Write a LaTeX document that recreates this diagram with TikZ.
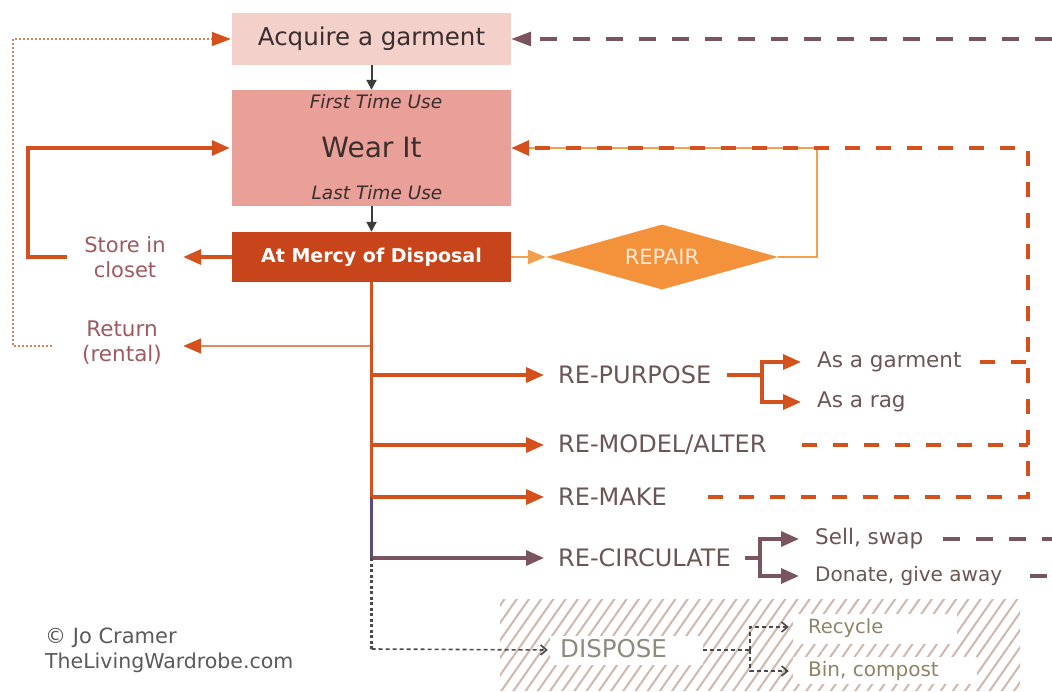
\documentclass[tikz,border=0pt]{standalone}
\usepackage{fontspec}
\setmainfont{DejaVu Sans}
\usetikzlibrary{arrows.meta,shapes.geometric,patterns.meta}
\definecolor{acqfill}{HTML}{F4D0CB}
\definecolor{wearfill}{HTML}{E8A098}
\definecolor{mercyfill}{HTML}{C8441A}
\definecolor{darkarrow}{HTML}{3C3C3C}
\definecolor{orred}{HTML}{D4511E}
\definecolor{repfill}{HTML}{F4923B}
\definecolor{repline}{HTML}{F2A04E}
\definecolor{reptext}{HTML}{FCE8D4}
\definecolor{mauve}{HTML}{7A5560}
\definecolor{brownpink}{HTML}{9E5A60}
\definecolor{retext}{HTML}{6B5656}
\definecolor{olive}{HTML}{8E8468}
\definecolor{disptext}{HTML}{8C8C7E}
\definecolor{copytext}{HTML}{5A5A5A}
\definecolor{hatchcol}{HTML}{CFB8AF}
\definecolor{dotor}{HTML}{D9805E}
\definecolor{trunkpurple}{HTML}{5C4A7C}
\definecolor{boxtext}{HTML}{3A2E2E}
\definecolor{returnline}{HTML}{E38A62}
\definecolor{displine}{HTML}{4A4A4A}
\begin{document}
\begin{tikzpicture}[x=1pt,y=-1pt,
  box/.style={rectangle, inner sep=0pt, text=boxtext},
  txt/.style={inner sep=0pt},
  wbox/.style={rectangle, fill=white, inner sep=0pt},
  relbl/.style={txt, anchor=west, text=retext, font=\fontsize{24}{28}\selectfont},
  sublbl/.style={txt, anchor=west, text=retext, font=\fontsize{21.5}{25}\selectfont},
  dlbl/.style={txt, anchor=west, text=olive, font=\fontsize{19.5}{23}\selectfont},
  arrdark/.style={draw=darkarrow, line width=2pt, -{Triangle[length=10pt,width=10pt]}},
  orline/.style={draw=orred, line width=3.3pt},
  bigtip/.style={-{Triangle[length=18pt,width=15pt]}},
  arror/.style={orline, line join=miter, bigtip},
  mline/.style={draw=mauve, line width=3.3pt},
  arrm/.style={mline, line join=miter, bigtip},
  odash/.style={draw=orred, line width=3.3pt, dash pattern=on 15pt off 16pt},
  mdash/.style={draw=mauve, line width=3.3pt, dash pattern=on 17pt off 16pt},
  repl/.style={draw=repline, line width=2.8pt},
  ddash/.style={draw=displine, line width=1.6pt, dash pattern=on 4pt off 3pt},
  ddarr/.style={ddash, -{Straight Barb[length=6pt,width=10pt,line width=1.6pt]}},
]
\useasboundingbox (0,0) rectangle (1052,692);
\fill[white] (0,0) rectangle (1052,692);

% hatched disposal area
\fill[pattern={Lines[angle=55,distance=10pt,line width=2pt]}, pattern color=hatchcol] (500,599) rectangle (1020,690);
\node[wbox, minimum width=153pt, minimum height=29pt] (disp) at (626.5,650) {};
\node[wbox, minimum width=164pt, minimum height=30pt] (rec) at (875,629) {};
\node[wbox, minimum width=184pt, minimum height=27pt] (bin) at (885,670.5) {};
\node[txt, anchor=west, text=disptext, font=\fontsize{24.5}{28}\selectfont] (disptxt) at (560,649) {DISPOSE};
\node[dlbl] (rectxt) at (808,628) {Recycle};
\node[dlbl, font=\fontsize{20}{24}\selectfont] (bintxt) at (808,671) {Bin, compost};

% main boxes
\node[box, fill=acqfill, minimum width=279pt, minimum height=52pt, font=\fontsize{24.5}{28}\selectfont] (acq) at (371.5,39) {Acquire a garment};
\node[box, fill=wearfill, minimum width=279pt, minimum height=116pt] (wear) at (371.5,148) {};
\node[txt, text=boxtext, font=\fontsize{28}{32}\selectfont] (wearlbl) at (371.5,147) {Wear It};
\node[txt, text=boxtext, font=\itshape\fontsize{18.5}{22}\selectfont] (first) at (376,102) {First Time Use};
\node[txt, text=boxtext, font=\itshape\fontsize{18.5}{22}\selectfont] (last) at (377,193) {Last Time Use};
\node[box, fill=mercyfill, minimum width=279pt, minimum height=50pt, text=white, font=\bfseries\fontsize{19}{23}\selectfont] (mercy) at (371.5,257) {At Mercy of Disposal};
\node[diamond, aspect=3.57, fill=repfill, minimum width=232pt, minimum height=65pt, inner sep=0pt, text=reptext, font=\fontsize{21}{25}\selectfont] (repair) at (662,257) {REPAIR};

% side labels
\node[txt, text=brownpink, align=center, minimum width=116pt, font=\fontsize{21}{25}\selectfont] (store) at (125,257) {Store in\\closet};
\node[txt, text=brownpink, align=center, minimum width=122pt, font=\fontsize{21.5}{25}\selectfont] (ret) at (122,343) {Return\\(rental)};

% RE- labels
\node[relbl] (rp) at (558,375) {RE-PURPOSE};
\node[relbl] (rm) at (558,445) {RE-MODEL/ALTER};
\node[relbl] (rk) at (558,497) {RE-MAKE};
\node[relbl] (rc) at (558,558) {RE-CIRCULATE};
\node[sublbl] (gar) at (817,362) {As a garment};
\node[sublbl] (rag) at (817,402) {As a rag};
\node[sublbl] (sell) at (815,539) {Sell, swap};
\node[sublbl, font=\fontsize{20}{24}\selectfont] (don) at (815,576) {Donate, give away};

% copyright
\node[txt, anchor=west, text=copytext, font=\fontsize{21}{25}\selectfont] (cr) at (45,638) {© Jo Cramer};
\node[txt, anchor=west, text=copytext, font=\fontsize{20.5}{25}\selectfont] (site) at (45,663) {TheLivingWardrobe.com};

% coordinates
\coordinate (t346) at (371.5,346);
\coordinate (t375) at (371.5,375);
\coordinate (t445) at (371.5,445);
\coordinate (t497) at (371.5,497);
\coordinate (t559) at (371.5,558);
\coordinate (t648) at (371.5,649);
\coordinate (lp1) at (28,257);
\coordinate (lp2) at (28,148);
\coordinate (dt0) at (52,346);
\coordinate (dt1) at (13,346);
\coordinate (dt2) at (13,39);
\coordinate (fp0) at (727,375);
\coordinate (fp) at (762,375);
\coordinate (fpa) at (762,362);
\coordinate (fpb) at (762,402);
\coordinate (fc0) at (745,558);
\coordinate (fc) at (760,558);
\coordinate (fca) at (760,539);
\coordinate (fcb) at (760,576);
\coordinate (rp1) at (817,257);
\coordinate (rp2) at (817,148);
\coordinate (garend) at (980,362);
\coordinate (rx362) at (1028,362);
\coordinate (rmend) at (802,445);
\coordinate (rx445) at (1028,445);
\coordinate (rkend) at (708,497);
\coordinate (rx497) at (1028,497);
\coordinate (rx148) at (1028,148);
\coordinate (acqR) at (1052,39);
\coordinate (sellend) at (943,539);
\coordinate (sellR) at (1052,539);
\coordinate (donend) at (1030,576);
\coordinate (donR) at (1052,576);
\coordinate (df) at (750,650);
\coordinate (dfa) at (750,627);
\coordinate (dfb) at (750,671);

% dark flow arrows
\draw[arrdark] (acq.south) -- (wear.north);
\draw[arrdark] (wear.south) -- (mercy.north);

% store loop
\draw[arror] (mercy.west) -- (store.east);
\draw[arror] (store.west) -- (lp1) -- (lp2) -- ([xshift=-2pt]wear.west);

% return (rental)
\draw[draw=returnline, line width=1.6pt, -{Triangle[length=18pt,width=15pt,color=orred,fill=orred]}] (t346) -- (t346 -| ret.east);
\draw[draw=dotor, line width=1.8pt, dash pattern=on 2pt off 2pt, -{Triangle[length=19pt,width=14pt,color=orred,fill=orred,sep=1pt]}] (dt0) -- (dt1) -- (dt2) -- (acq.west);

% repair
\draw[repl, -{Triangle[length=18pt,width=14pt]}] (mercy.east) -- (repair.west);
\draw[repl] (repair.east) -- (rp1) -- (rp2) -- ([xshift=16pt]wear.east);

% trunk
\draw[orline] (mercy.south) -- (t497);
\draw[draw=trunkpurple, line width=3.3pt] (t497) -- (t559);
\draw[arror] (t375) -- ([xshift=-14pt]rp.west);
\draw[arror] (t445) -- ([xshift=-14pt]rm.west);
\draw[arror] (t497) -- ([xshift=-14pt]rk.west);
\draw[arrm] (t559) -- ([xshift=-14pt]rc.west);

% re-purpose fork
\draw[orline] (fp0) -- (fp);
\draw[arror] (fp) -- (fpa) -- ([xshift=-16pt]gar.west);
\draw[arror] (fp) -- (fpb) -- ([xshift=-16pt]rag.west);

% re-circulate fork
\draw[mline] (fc0) -- (fc);
\draw[arrm] (fc) -- (fca) -- ([xshift=-16pt]sell.west);
\draw[arrm] (fc) -- (fcb) -- ([xshift=-16pt]don.west);

% dashed returns
\draw[odash, line join=miter] (rkend) -- (rx497) -- (rx148) -- ([xshift=16pt]wear.east);
\draw[draw=orred, bigtip, line width=3.3pt] ([xshift=16pt]wear.east) -- (wear.east);
\draw[odash] (rmend) -- (rx445);
\draw[odash] (garend) -- (rx362);
\draw[mdash] (acqR) -- ([xshift=20pt]acq.east);
\draw[draw=mauve, -{Triangle[length=20pt,width=14pt]}, line width=3.3pt] ([xshift=20pt]acq.east) -- (acq.east);
\draw[mdash] (sellend) -- (sellR);
\draw[mdash] (donend) -- (donR);

% dispose
\draw[draw=displine, line width=2.2pt, dash pattern=on 3pt off 2.5pt] (t559) -- (t648);
\draw[ddarr] (t648) -- ([xshift=-2pt]disp.west);
\draw[ddash] (disp.east) -- (df);
\draw[ddarr] (df) -- (dfa) -- ([xshift=-4pt]dfa -| rec.west);
\draw[ddarr] (df) -- (dfb) -- ([xshift=-4pt]dfb -| bin.west);
\end{tikzpicture}
\end{document}
